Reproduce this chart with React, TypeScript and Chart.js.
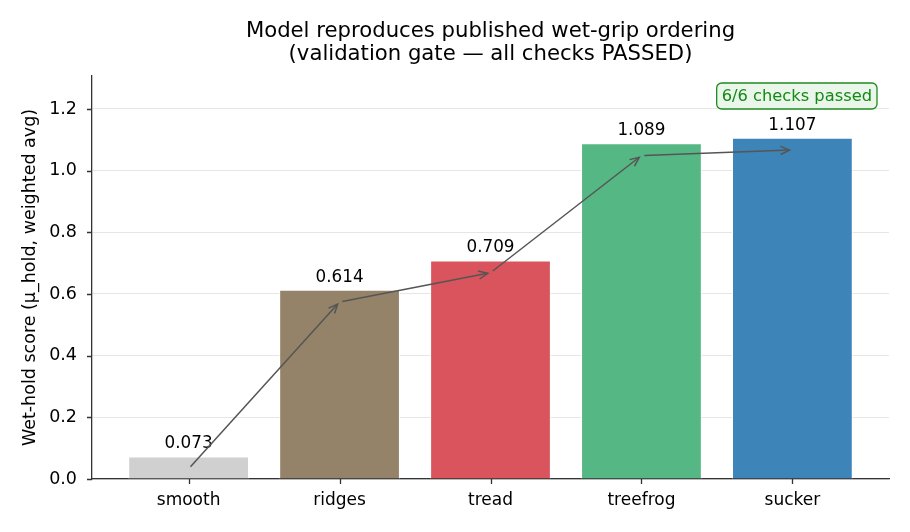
import { useEffect, useRef } from "react";
import { Chart, ChartConfiguration, Plugin, registerables } from "chart.js";

Chart.register(...registerables);

const categories = ["smooth", "ridges", "tread", "treefrog", "sucker"];
const scores = [0.073, 0.614, 0.709, 1.089, 1.107];
const barColors = ["#d0d0d0", "#958369", "#d9545c", "#55b783", "#3d85b8"];
const yTicks = [0, 0.2, 0.4, 0.6, 0.8, 1.0, 1.2];
const titleLines = ["Model reproduces published wet-grip ordering", "(validation gate — all checks PASSED)"];
const yLabel = "Wet-hold score (μ_hold, weighted avg)";
const badgeText = "6/6 checks passed";

const FONT = "'DejaVu Sans', sans-serif";

const overlay: Plugin<"bar"> = {
  id: "overlay",
  afterDatasetsDraw(chart) {
    const { ctx } = chart;
    const x = chart.scales.x;
    const y = chart.scales.y;
    ctx.save();

    // value labels above bars
    ctx.fillStyle = "#000";
    ctx.font = `16.8px ${FONT}`;
    ctx.textAlign = "center";
    ctx.textBaseline = "alphabetic";
    scores.forEach((v, i) => {
      ctx.fillText(v.toFixed(3), x.getPixelForValue(i), y.getPixelForValue(v) - 8);
    });

    // ordering arrows
    ctx.strokeStyle = "#555";
    ctx.lineWidth = 1.5;
    for (let i = 0; i < scores.length - 1; i++) {
      let x0 = x.getPixelForValue(i);
      let y0 = y.getPixelForValue(scores[i] - 0.04);
      let x1 = x.getPixelForValue(i + 1);
      let y1 = y.getPixelForValue(scores[i + 1] - 0.04);
      const ang = Math.atan2(y1 - y0, x1 - x0);
      const s = 2.8;
      x0 += Math.cos(ang) * s;
      y0 += Math.sin(ang) * s;
      x1 -= Math.cos(ang) * s;
      y1 -= Math.sin(ang) * s;
      ctx.beginPath();
      ctx.moveTo(x0, y0);
      ctx.lineTo(x1, y1);
      ctx.stroke();
      const hl = 10;
      const ha = 0.42;
      ctx.beginPath();
      ctx.moveTo(x1 - hl * Math.cos(ang - ha), y1 - hl * Math.sin(ang - ha));
      ctx.lineTo(x1, y1);
      ctx.lineTo(x1 - hl * Math.cos(ang + ha), y1 - hl * Math.sin(ang + ha));
      ctx.stroke();
    }
    ctx.restore();
  },
  afterDraw(chart) {
    const { ctx, chartArea } = chart;
    const x = chart.scales.x;
    const y = chart.scales.y;
    ctx.save();
    const cx = (chartArea.left + chartArea.right) / 2;

    // outward tick marks
    ctx.strokeStyle = "#333";
    ctx.lineWidth = 1.3;
    ctx.beginPath();
    categories.forEach((_, i) => {
      const px = Math.round(x.getPixelForValue(i)) + 0.5;
      ctx.moveTo(px, chartArea.bottom);
      ctx.lineTo(px, chartArea.bottom + 5);
    });
    yTicks.forEach((v) => {
      const py = Math.round(y.getPixelForValue(v)) + 0.5;
      ctx.moveTo(chartArea.left - 5, py);
      ctx.lineTo(chartArea.left, py);
    });
    ctx.stroke();

    // title
    ctx.fillStyle = "#000";
    ctx.font = `21.2px ${FONT}`;
    ctx.textAlign = "center";
    ctx.textBaseline = "middle";
    ctx.fillText(titleLines[0], cx, 31);
    ctx.fillText(titleLines[1], cx, 54);

    // y axis label
    ctx.save();
    ctx.translate(30, (chartArea.top + chartArea.bottom) / 2);
    ctx.rotate(-Math.PI / 2);
    ctx.font = `17.5px ${FONT}`;
    ctx.fillText(yLabel, 0, 0);
    ctx.restore();

    // badge
    ctx.font = `16.3px ${FONT}`;
    const w = ctx.measureText(badgeText).width + 10;
    const h = 26;
    const bx = chartArea.right - 12 - w;
    const by = chartArea.top + 7;
    ctx.beginPath();
    ctx.roundRect(bx, by, w, h, 5);
    ctx.fillStyle = "#e9f6e9";
    ctx.fill();
    ctx.strokeStyle = "#1e8a1e";
    ctx.lineWidth = 1.3;
    ctx.stroke();
    ctx.fillStyle = "#138a13";
    ctx.textAlign = "center";
    ctx.fillText(badgeText, bx + w / 2, by + h / 2 + 1);
    ctx.restore();
  },
};

export default function App() {
  const canvasRef = useRef<HTMLCanvasElement>(null);
  const chartRef = useRef<Chart | null>(null);

  useEffect(() => {
    if (!canvasRef.current) return;
    if (chartRef.current) chartRef.current.destroy();
    const ctx = canvasRef.current.getContext("2d");
    if (!ctx) return;

    const config: ChartConfiguration<"bar"> = {
      type: "bar",
      data: {
        datasets: [
          {
            data: scores.map((v, i) => ({ x: i, y: v })) as any,
            backgroundColor: barColors,
            borderColor: "#ffffff",
            borderWidth: 1,
            barPercentage: 0.8,
            categoryPercentage: 1,
          },
        ],
      },
      options: {
        animation: false,
        responsive: true,
        maintainAspectRatio: false,
        layout: { padding: { left: 0, right: 21, top: 76, bottom: 0 } },
        plugins: {
          legend: { display: false },
          title: { display: false },
          tooltip: { enabled: false },
        },
        scales: {
          x: {
            type: "linear",
            min: -0.64,
            max: 4.64,
            offset: false,
            afterBuildTicks: (scale) => {
              scale.ticks = categories.map((_, i) => ({ value: i }));
            },
            afterFit: (scale) => {
              scale.height = 53;
            },
            ticks: {
              callback: (v) => categories[Number(v)] ?? "",
              color: "#000",
              font: { family: FONT, size: 17 },
              padding: 6,
              maxRotation: 0,
            },
            grid: {
              offset: false,
              drawOnChartArea: false,
              drawTicks: true,
              tickLength: 5,
              color: "rgba(0,0,0,0)",
            },
            border: { display: true, color: "#333", width: 1.3 },
          },
          y: {
            min: 0,
            max: 1.307,
            afterBuildTicks: (scale) => {
              scale.ticks = yTicks.map((v) => ({ value: v }));
            },
            afterFit: (scale) => {
              scale.width = 92;
            },
            ticks: {
              callback: (v) => Number(v).toFixed(1),
              color: "#000",
              font: { family: FONT, size: 17.5 },
              padding: 10,
            },
            grid: {
              color: "#e0e0e0",
              lineWidth: 0.8,
              tickColor: "rgba(0,0,0,0)",
              tickLength: 5,
            },
            border: { display: true, color: "#333", width: 1.3 },
          },
        },
      },
      plugins: [overlay],
    };

    chartRef.current = new Chart(ctx, config);
    return () => {
      if (chartRef.current) {
        chartRef.current.destroy();
        chartRef.current = null;
      }
    };
  }, []);

  return (
    <div style={{ position: "absolute", left: 0, top: 0, width: 910, height: 532, background: "#fff" }}>
      <canvas ref={canvasRef} />
    </div>
  );
}
